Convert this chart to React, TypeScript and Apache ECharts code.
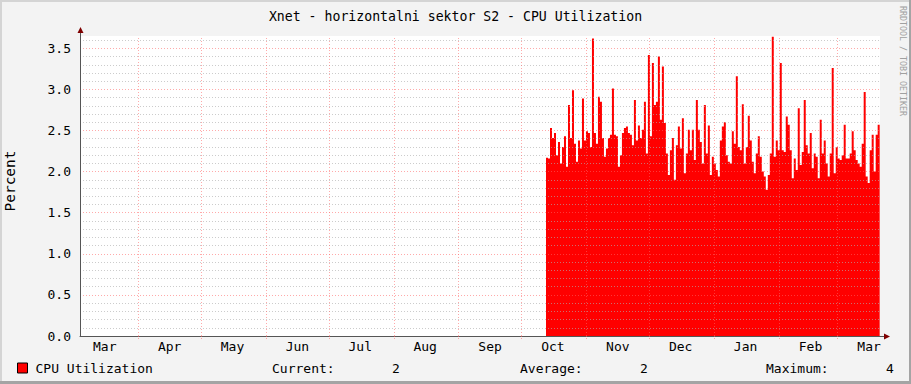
import React, { useEffect, useRef } from "react";
import * as echarts from "echarts";

const TITLE = "Xnet - horizontalni sektor S2 - CPU Utilization";
const Y_NAME = "Percent";
const SERIES_NAME = "CPU Utilization";
const WATERMARK = "RRDTOOL / TOBI OETIKER";

// x extent (UTC)
const AXIS_START = Date.UTC(2010, 2, 4, 4);
const AXIS_END = Date.UTC(2011, 2, 21, 5);

// month grid lines (first of month)
const GRID_MONTHS: [number, number][] = [
  [2010, 3], [2010, 4], [2010, 5], [2010, 6], [2010, 7], [2010, 8],
  [2010, 9], [2010, 10], [2010, 11], [2011, 0], [2011, 1], [2011, 2],
];
// month labels (mid-month)
const MONTH_LABELS = ["Mar", "Apr", "May", "Jun", "Jul", "Aug", "Sep", "Oct", "Nov", "Dec", "Jan", "Feb", "Mar"];
const LABEL_MONTHS: [number, number][] = [
  [2010, 2], [2010, 3], [2010, 4], [2010, 5], [2010, 6], [2010, 7], [2010, 8],
  [2010, 9], [2010, 10], [2010, 11], [2011, 0], [2011, 1], [2011, 2],
];

// samples
const SAMPLE_START = Date.UTC(2010, 9, 12, 17);
const SAMPLE_STEP_HOURS = 22.9;
const CPU_VALUES = [
  2.17, 2.16, 2.53, 2.41, 2.47, 2.20, 2.36, 2.10, 2.30, 2.43,
  2.06, 2.81, 2.41, 2.99, 2.34, 2.12, 2.38, 2.28, 2.89, 2.38,
  2.49, 2.47, 2.30, 3.62, 2.47, 2.34, 2.91, 2.85, 2.41, 2.18,
  2.28, 2.41, 2.45, 3.01, 2.45, 2.43, 2.06, 2.20, 2.47, 2.53,
  2.55, 2.47, 2.45, 2.32,
  2.87, 2.38, 2.56, 2.41, 2.51, 2.85, 2.22, 3.42, 2.43, 3.32,
  2.81, 2.85, 3.40, 2.63, 3.28, 2.59, 2.22, 1.96, 2.26, 2.41,
  1.90, 2.32, 2.55, 2.28, 2.65, 1.98, 2.22, 2.51, 2.26, 2.51,
  2.14, 2.87, 2.51, 2.36, 2.10, 2.81, 2.22, 2.56, 1.96, 2.18,
  2.10, 2.02, 1.94, 2.38,
  2.55, 2.60, 2.20, 2.12, 2.10, 2.49, 2.34, 3.16, 2.30, 2.26,
  2.82, 2.10, 2.30, 2.68, 2.38, 2.12, 1.98, 2.22, 2.43, 2.18,
  2.00, 1.94, 1.78, 1.96, 2.22, 3.64, 2.18, 2.38, 2.26, 3.32,
  2.26, 2.24, 2.67, 2.57, 2.26, 1.92, 2.16, 2.02, 2.77, 2.08,
  2.24, 2.87, 2.32, 2.22,
  2.47, 2.04, 2.22, 2.18, 1.92, 2.63, 2.22, 2.38, 2.10, 1.94,
  2.22, 3.26, 1.98, 2.30, 2.16, 2.14, 2.20, 2.57, 2.16, 2.16,
  2.22, 2.49, 2.26, 2.14, 2.10, 2.06, 2.34, 2.97, 1.94, 1.86,
  2.26, 2.45, 2.00, 2.45, 2.57,
];

const Y_MIN = 0;
const Y_MAX = 3.65;
const Y_STEP = 0.1;

const LEGEND_STATS: [string, string][] = [
  ["Current:", "2"],
  ["Average:", "2"],
  ["Maximum:", "4"],
];

const FONT = "DejaVu Sans Mono";
const MAJOR = "rgba(255,100,100,0.55)";
const MINOR = "rgba(175,175,175,0.63)";

export default function App() {
  const ref = useRef<HTMLDivElement>(null);
  useEffect(() => {
    if (!ref.current) return;
    const chart = echarts.init(ref.current, undefined, { renderer: "svg" });
    const stepMs = SAMPLE_STEP_HOURS * 3600 * 1000;
    const data: [number, number][] = CPU_VALUES.map((v, i) => [SAMPLE_START + i * stepMs, v]);
    data.push([SAMPLE_START + CPU_VALUES.length * stepMs, CPU_VALUES[CPU_VALUES.length - 1]]);
    const gridTs = GRID_MONTHS.map(([y, m]) => Date.UTC(y, m, 1));
    const labelTs = LABEL_MONTHS.map(([y, m]) => Date.UTC(y, m, 16));

    const statX = [[272, 392], [520, 640], [766, 886]];
    const graphics: any[] = [];
    LEGEND_STATS.forEach(([k, v], i) => {
      graphics.push({
        type: "text", x: statX[i][0], y: 368, silent: true,
        style: { text: k, fontFamily: FONT, fontSize: 13, fill: "#000", textVerticalAlign: "middle" },
      });
      graphics.push({
        type: "text", x: statX[i][1], y: 368, silent: true,
        style: { text: v, fontFamily: FONT, fontSize: 13, fill: "#000", textVerticalAlign: "middle" },
      });
    });
    graphics.push(
      {
        type: "text", x: 903, y: 6, rotation: -Math.PI / 2, silent: true,
        style: { text: WATERMARK, fontFamily: FONT, fontSize: 8.3, fill: "#a0a0a0", textAlign: "left", textVerticalAlign: "middle" },
      },
      { type: "line", silent: true, shape: { x1: 80.5, y1: 36, x2: 80.5, y2: 31 }, style: { stroke: "#555", lineWidth: 1 } },
      { type: "polygon", silent: true, shape: { points: [[77.5, 33], [83.5, 33], [80.5, 27]] }, style: { fill: "#7f0000" } },
      { type: "line", silent: true, shape: { x1: 880, y1: 336.5, x2: 885, y2: 336.5 }, style: { stroke: "#555", lineWidth: 1 } },
      { type: "polygon", silent: true, shape: { points: [[884, 333.5], [884, 339.5], [890, 336.5]] }, style: { fill: "#7f0000" } },
      { type: "rect", silent: true, shape: { x: 0, y: 0, width: 911, height: 2 }, style: { fill: "#d4d4d4" } },
      { type: "rect", silent: true, shape: { x: 0, y: 0, width: 2, height: 384 }, style: { fill: "#d4d4d4" } },
      { type: "rect", silent: true, shape: { x: 0, y: 381, width: 911, height: 3 }, style: { fill: "#a4a4a4" } },
      { type: "rect", silent: true, shape: { x: 909, y: 0, width: 2, height: 384 }, style: { fill: "#a4a4a4" } },
    );

    chart.setOption({
      animation: false,
      backgroundColor: "#F3F3F3",
      title: {
        text: TITLE, left: "center", top: 5,
        textStyle: { fontFamily: FONT, fontSize: 13.2, fontWeight: "normal", color: "#000" },
      },
      legend: {
        data: [SERIES_NAME], left: 17, top: 360, padding: 0, itemWidth: 10, itemHeight: 10,
        icon: "rect", selectedMode: false,
        itemStyle: { color: "#FF0000", borderColor: "#000", borderWidth: 1 },
        textStyle: { fontFamily: FONT, fontSize: 13, color: "#000", padding: [0, 0, 0, 3], lineHeight: 16 },
      },
      grid: {
        left: 80, right: 31, top: 36, bottom: 48, show: true, backgroundColor: "#FFFFFF", borderWidth: 0,
        containLabel: false, outerBoundsMode: "none",
      },
      xAxis: {
        type: "value", min: AXIS_START, max: AXIS_END, z: 5,
        axisLine: { show: true, lineStyle: { color: "#555", width: 1 } },
        axisTick: { show: true, customValues: gridTs, length: 3, lineStyle: { color: MAJOR, type: [1, 1] } },
        splitLine: { show: false },
        axisLabel: {
          customValues: labelTs, margin: 4, color: "#000", fontFamily: FONT, fontSize: 13,
          formatter: (v: number) => {
            let idx = 0, best = Infinity;
            labelTs.forEach((t, i) => { const d = Math.abs(t - v); if (d < best) { best = d; idx = i; } });
            return MONTH_LABELS[idx];
          },
        },
      },
      yAxis: {
        type: "value", min: Y_MIN, max: Y_MAX, interval: Y_STEP, z: 5,
        name: Y_NAME, nameLocation: "middle", nameGap: 63, nameRotate: 90,
        nameTextStyle: { fontFamily: FONT, fontSize: 14.5, color: "#000", padding: [0, 0, 0, 10] },
        axisLine: { show: true, lineStyle: { color: "#555", width: 1 } },
        axisTick: { show: false },
        axisLabel: {
          margin: 9, color: "#000", fontFamily: FONT, fontSize: 13, showMaxLabel: false,
          formatter: (v: number) => (Math.abs(v * 2 - Math.round(v * 2)) < 1e-6 ? v.toFixed(1) : ""),
        },
        splitLine: {
          show: true, showMaxLine: false,
          lineStyle: { color: [MAJOR, MINOR, MINOR, MINOR, MINOR], type: [1, 2], width: 1 },
        },
      },
      series: [
        {
          name: SERIES_NAME, type: "line", step: "end", data, symbol: "none", showSymbol: false,
          color: "#FF0000", lineStyle: { width: 0 }, areaStyle: { color: "#FF0000", opacity: 1 },
          silent: true, z: 2, emphasis: { disabled: true },
          markLine: {
            silent: true, symbol: ["none", "none"], label: { show: false },
            lineStyle: { color: MAJOR, type: [1, 2], width: 1 },
            emphasis: { disabled: true },
            data: gridTs.map((t) => ({ xAxis: t })),
          },
        },
      ],
      graphic: graphics,
    });
    return () => chart.dispose();
  }, []);
  return <div ref={ref} style={{ position: "fixed", left: 0, top: 0, width: 911, height: 384 }} />;
}
